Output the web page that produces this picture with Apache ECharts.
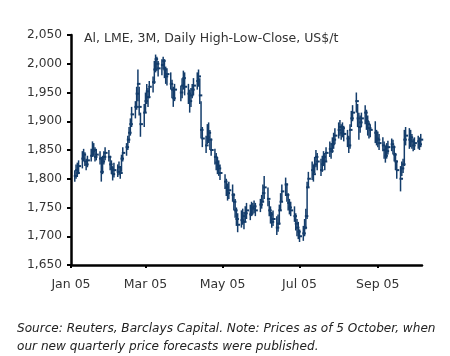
<!DOCTYPE html>
<html><head><meta charset="utf-8">
<script src="https://cdn.jsdelivr.net/npm/echarts@6/dist/echarts.min.js"></script>
<style>html,body{margin:0;padding:0;background:#fff}#c{width:450px;height:356px}</style>
</head><body><div id="c"></div>
<script>
const chartTitle = 'Al, LME, 3M, Daily High-Low-Close, US$/t';
const footnoteLines = ['Source: Reuters, Barclays Capital. Note: Prices as of 5 October, when', 'our new quarterly price forecasts were published.'];
const xTickDates = ['2005-01-01', '2005-03-01', '2005-05-01', '2005-07-01', '2005-09-01'];
const xTickLabels = ['Jan 05', 'Mar 05', 'May 05', 'Jul 05', 'Sep 05'];
const axisStart = '2005-01-01';
const axisEnd = '2005-10-06';
const firstTradingDay = '2005-01-04';
const lastTradingDay = '2005-10-05';
const holidays = ['2005-03-25', '2005-03-28', '2005-05-02', '2005-05-30', '2005-08-29'];
const yMin = 1650, yMax = 2050, yStep = 50;

// closes, by month (Jan..Oct)
const closes = [
  1805,1815,1810,1822, 1835,1842,1830,1825,1832, 1840,1848,1850,1838,1842, 1835,1812,1830,1838,1845, 1838,
  1825,1818,1808,1815, 1812,1820,1810,1835,1845, 1855,1868,1880,1895,1912, 1925,1948,1965,1925,1895, 1915,
  1935,1952,1942,1960, 1968,1990,2008,2000,1992, 1998,2005,1990,1978,1982, 1965,1955,1940,1955, 1950,1962,1975,
  1960, 1948,1935,1945,1955,1962, 1970,1978,1945,1885,1870, 1858,1872,1880,1868,1850, 1838,1828,1822,1818,1810,
  1795,1785,1775,1780, 1772,1760,1745,1730,1720, 1728,1735,1725,1740,1745, 1738,1750,1748,1752,1745, 1755,
  1760,1775,1785, 1765,1745,1738,1725,1730, 1715,1722,1745,1760,1778, 1790,1772,1758,1750,1745, 1735,1722,1715,1708,
  1700, 1705,1715,1735,1785,1800, 1815,1808,1825,1838,1830, 1815,1825,1838,1830,1845, 1852,1848,1860,1868,1875,
  1885,1890,1880,1888,1878, 1870,1858,1885,1905,1915, 1935,1905,1890,1898,1905, 1915,1900,1895,1888,1885, 1880,1870,
  1868,1862, 1858,1850,1840,1848,1855, 1860,1855,1842,1830,1815, 1800,1818,1825,1868,1875, 1868,1872,1865,1858,1862,
  1865,1860,1868
];
const highs = [
  1815,1825,1828,1832, 1848,1852,1846,1835,1840, 1852,1865,1862,1855,1852, 1848,1838,1840,1848,1855, 1850,
  1840,1832,1822,1828, 1825,1830,1822,1842,1855, 1862,1875,1890,1905,1925, 1935,1960,1990,1960,1915, 1930,
  1950,1965,1958,1970, 1978,2005,2016,2012,2005, 2008,2012,2008,1995,1992, 1985,1972,1960,1965, 1962,1975,1988,
  1985, 1965,1955,1958,1965,1975, 1985,1990,1975,1935,1890, 1875,1895,1898,1885,1870, 1852,1845,1838,1832,1825,
  1808,1800,1792,1795, 1790,1775,1765,1750,1740, 1745,1748,1742,1752,1758, 1755,1760,1758,1762,1758, 1765,
  1772,1790,1805, 1785,1762,1752,1742,1745, 1735,1738,1755,1775,1790, 1802,1792,1775,1765,1760, 1752,1740,1730,1725,
  1712, 1718,1730,1748,1795,1812, 1830,1825,1838,1850,1845, 1835,1840,1848,1845,1855, 1865,1862,1872,1880,1888,
  1898,1902,1895,1898,1892, 1885,1875,1895,1918,1928, 1950,1930,1915,1910,1915, 1928,1920,1910,1900,1895, 1900,1885,
  1882,1878, 1872,1865,1858,1862,1866, 1870,1868,1858,1845,1832, 1822,1830,1835,1885,1890, 1888,1885,1878,1870,1872,
  1875,1872,1878
];
const lows = [
  1795,1800,1803,1808, 1818,1830,1822,1815,1820, 1830,1838,1840,1830,1832, 1825,1795,1808,1825,1832, 1830,
  1815,1808,1797,1802, 1803,1806,1800,1812,1830, 1840,1850,1862,1875,1890, 1905,1920,1935,1910,1873, 1890,
  1915,1930,1925,1940, 1950,1965,1985,1988,1978, 1980,1990,1975,1965,1962, 1955,1940,1925,1935, 1935,1940,1955,
  1945, 1930,1915,1925,1940,1945, 1955,1960,1930,1870,1855, 1845,1860,1862,1850,1840, 1825,1815,1808,1805,1798,
  1782,1770,1762,1765, 1760,1745,1732,1718,1707, 1715,1720,1712,1725,1730, 1728,1735,1738,1740,1735, 1742,
  1748,1760,1765, 1752,1735,1722,1715,1718, 1702,1708,1720,1745,1760, 1770,1760,1745,1738,1735, 1725,1710,1700,1695,
  1690, 1692,1700,1712,1730,1785, 1798,1795,1810,1820,1815, 1805,1812,1822,1815,1830, 1838,1835,1845,1852,1860,
  1870,1875,1868,1872,1865, 1855,1845,1852,1890,1900, 1915,1890,1868,1880,1890, 1895,1885,1875,1870,1872, 1862,1858,
  1855,1850, 1848,1835,1828,1835,1842, 1848,1842,1830,1815,1800, 1778,1805,1810,1822,1858, 1852,1855,1852,1848,1850,
  1852,1850,1855
];

function parseDay(s) { const p = s.split('-').map(Number); return new Date(p[0], p[1] - 1, p[2]); }
function ymd(d) { return d.getFullYear() + '-' + String(d.getMonth() + 1).padStart(2, '0') + '-' + String(d.getDate()).padStart(2, '0'); }
const tradingDays = [];
for (let d = parseDay(firstTradingDay); d <= parseDay(lastTradingDay); d.setDate(d.getDate() + 1)) {
  const wd = d.getDay();
  if (wd === 0 || wd === 6) continue;
  if (holidays.indexOf(ymd(d)) >= 0) continue;
  tradingDays.push(d.getTime());
}
const seriesData = tradingDays.map((t, i) => [t, lows[i], highs[i], closes[i]]).filter(r => r[1] != null);
const tickTimes = xTickDates.map(s => parseDay(s).getTime());

const barColor = '#143d6b';
const textColor = '#333';
const font = 'DejaVu Sans';
const chart = echarts.init(document.getElementById('c'), null, { renderer: 'canvas' });
chart.setOption({
  animation: false,
  backgroundColor: '#fff',
  grid: { left: 71, right: 28, top: 35, bottom: 91, containLabel: false },
  title: {
    text: chartTitle, left: 79, top: 27,
    textStyle: { fontFamily: font, fontSize: 12.5, fontWeight: 'normal', color: textColor }
  },
  graphic: [{
    type: 'text', left: 17, top: 320,
    style: { text: footnoteLines.join('\n'), fontFamily: font, fontStyle: 'italic', fontSize: 12.1, lineHeight: 18, fill: '#222' }
  }],
  xAxis: {
    type: 'value',
    min: parseDay(axisStart).getTime(),
    max: parseDay(axisEnd).getTime(),
    axisLine: { show: true, onZero: false, lineStyle: { color: '#000', width: 2.5 } },
    axisTick: { show: true, inside: false, length: 3, customValues: tickTimes, lineStyle: { color: '#000', width: 2 } },
    axisLabel: {
      customValues: tickTimes, margin: 13, color: textColor, fontFamily: font, fontSize: 12.5,
      formatter: v => { const i = tickTimes.indexOf(v); return i >= 0 ? xTickLabels[i] : ''; }
    },
    splitLine: { show: false }
  },
  yAxis: {
    type: 'value', min: yMin, max: yMax, interval: yStep,
    axisLine: { show: true, lineStyle: { color: '#000', width: 2.5 } },
    axisTick: { show: true, inside: false, length: 4, lineStyle: { color: '#000', width: 2 } },
    axisLabel: {
      margin: 9, color: textColor, fontFamily: font, fontSize: 12.2,
      formatter: v => v.toLocaleString('en-US')
    },
    splitLine: { show: false }
  },
  series: [{
    type: 'custom',
    data: seriesData,
    encode: { x: 0, y: [1, 2, 3] },
    renderItem: (params, api) => {
      const t = api.value(0);
      const lo = api.coord([t, api.value(1)]);
      const hi = api.coord([t, api.value(2)]);
      const cl = api.coord([t, api.value(3)]);
      const style = { stroke: barColor, lineWidth: 1.5 };
      return {
        type: 'group', children: [
          { type: 'line', shape: { x1: lo[0], y1: lo[1], x2: hi[0], y2: hi[1] }, style },
          { type: 'line', shape: { x1: cl[0] - 1, y1: cl[1], x2: cl[0] + 2.5, y2: cl[1] }, style: { stroke: barColor, lineWidth: 2 } }
        ]
      };
    }
  }]
});
</script>
</body></html>
